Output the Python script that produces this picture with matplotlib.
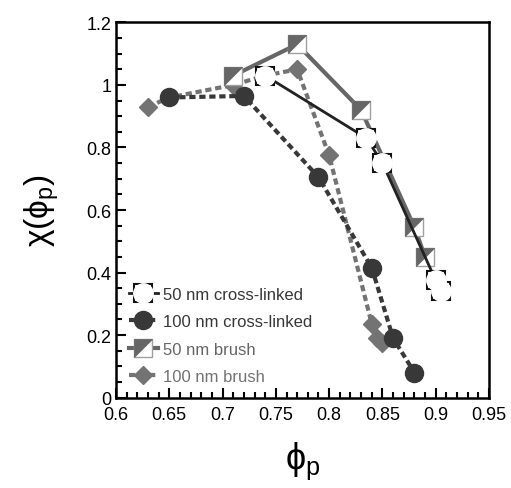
import numpy as np
import matplotlib
matplotlib.use("Agg")
import matplotlib.pyplot as plt
from matplotlib.path import Path
from matplotlib.ticker import MultipleLocator, FuncFormatter

plt.rcParams['font.family'] = ['Liberation Sans', 'DejaVu Sans']
plt.rcParams['mathtext.fontset'] = 'custom'
plt.rcParams['mathtext.rm'] = 'Liberation Sans'
plt.rcParams['mathtext.it'] = 'Liberation Sans'

# 50 nm cross-linked
x_cl50 = [0.74, 0.835, 0.85, 0.90, 0.905]
y_cl50 = [1.03, 0.83, 0.75, 0.375, 0.34]
# 100 nm cross-linked
x_cl100 = [0.65, 0.72, 0.79, 0.84, 0.86, 0.88]
y_cl100 = [0.96, 0.965, 0.705, 0.415, 0.19, 0.08]
# 50 nm brush
x_br50 = [0.71, 0.77, 0.83, 0.88, 0.89]
y_br50 = [1.03, 1.13, 0.92, 0.545, 0.45]
# 100 nm brush
x_br100 = [0.63, 0.65, 0.71, 0.74, 0.77, 0.80, 0.84, 0.845, 0.85]
y_br100 = [0.93, 0.96, 1.0, 1.03, 1.05, 0.775, 0.235, 0.19, 0.175]

dark = '#383838'
grey = '#666666'
grey2 = '#737373'

tri = Path([(-1, 1), (1, 1), (-1, -1), (-1, 1)],
           [Path.MOVETO, Path.LINETO, Path.LINETO, Path.CLOSEPOLY])

fig = plt.figure(figsize=(5.11, 4.89), dpi=100)
ax = fig.add_axes([0.227, 0.185, 0.730, 0.767])

# 100 nm brush
l4, = ax.plot(x_br100, y_br100, ls=(0, (1.5, 0.9)), lw=3, color=grey2,
              marker='D', ms=9.5, mfc=grey2, mec=grey2, zorder=2)
# 100 nm cross-linked
l2, = ax.plot(x_cl100, y_cl100, ls=(0, (1.5, 0.9)), lw=3, color=dark,
              marker='o', ms=13, mfc=dark, mec=dark, zorder=3)
# 50 nm brush
l3a, = ax.plot(x_br50, y_br50, ls='-', lw=3, color=grey,
               marker='s', ms=13, mfc='white', mec='#a0a0a0', mew=1, zorder=4)
l3b, = ax.plot(x_br50, y_br50, ls='none', marker=tri, ms=13,
               mfc=grey, mec=grey, mew=0.5, zorder=4)
# 50 nm cross-linked
l1a, = ax.plot(x_cl50, y_cl50, ls='-', lw=2, color='#222222',
               marker='s', ms=13, mfc='white', mec='#111111', mew=1.5, zorder=5)
l1b, = ax.plot(x_cl50, y_cl50, ls='none', marker='o', ms=14,
               mfc='white', mec='white', zorder=5)

ax.set_xlim(0.6, 0.95)
ax.set_ylim(0, 1.2)
ax.xaxis.set_major_locator(MultipleLocator(0.05))
ax.xaxis.set_minor_locator(MultipleLocator(0.01))
ax.yaxis.set_major_locator(MultipleLocator(0.2))
ax.yaxis.set_minor_locator(MultipleLocator(0.05))
fmt = FuncFormatter(lambda v, p: '%g' % round(v, 3))
ax.xaxis.set_major_formatter(fmt)
ax.yaxis.set_major_formatter(fmt)
ax.tick_params(which='both', direction='in', top=False, right=False,
               labelsize=13, width=1.5)
ax.tick_params(axis='x', pad=6)
ax.tick_params(which='major', length=7)
ax.tick_params(which='minor', length=4)
for s in ax.spines.values():
    s.set_linewidth(1.8)

ax.set_xlabel(r'$\mathrm{\phi_p}$', fontsize=26, labelpad=12)
ax.set_ylabel(r'$\mathrm{\chi(\phi_p)}$', fontsize=24, labelpad=18)

leg = ax.legend([(l1a, l1b), l2, (l3a, l3b), l4],
                ['50 nm cross-linked', '100 nm cross-linked',
                 '50 nm brush', '100 nm brush'],
                loc='lower left', frameon=False, fontsize=12,
                handlelength=1.7, handletextpad=0.3, labelspacing=0.75,
                borderaxespad=0.4, numpoints=1)
for t, c in zip(leg.get_texts(), [dark, dark, grey, grey2]):
    t.set_color(c)

fig.savefig('out.png', dpi=100)
